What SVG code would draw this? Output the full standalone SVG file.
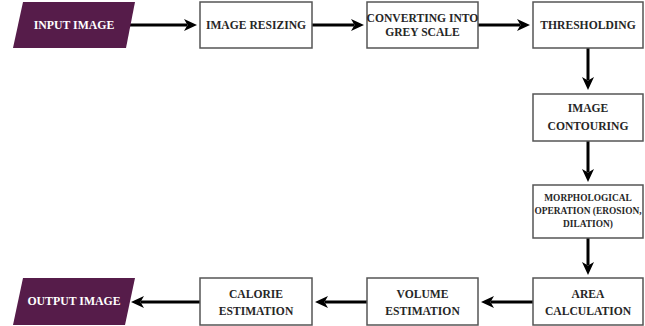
<svg xmlns="http://www.w3.org/2000/svg" width="645" height="326" viewBox="0 0 645 326">
<style>
.box{fill:#ffffff;stroke:#555555;stroke-width:1.5}
.io{fill:#561c4a;stroke:none}
.t{font-family:"Liberation Serif","Times New Roman",serif;font-weight:bold;font-size:11.6px;fill:#262626;text-anchor:middle}
.ti{font-family:"Liberation Serif","Times New Roman",serif;font-weight:bold;font-size:11.8px;fill:#ffffff;text-anchor:middle}
.ts{font-family:"Liberation Serif","Times New Roman",serif;font-weight:bold;font-size:9.4px;fill:#262626;text-anchor:middle}
.c{fill:none;stroke:#000000;stroke-width:3}
</style>
<defs>
<marker id="ah" markerUnits="userSpaceOnUse" markerWidth="14" markerHeight="14" viewBox="0 0 14 14" refX="3" refY="7" orient="auto">
<path d="M0,1 L13,7 L0,13 L3.5,7 Z" fill="#000000"/>
</marker>
</defs>
<g id="connectors">
<line class="c" x1="130" y1="25" x2="187" y2="25" marker-end="url(#ah)"/>
<line class="c" x1="312" y1="25" x2="354" y2="25" marker-end="url(#ah)"/>
<line class="c" x1="478" y1="25" x2="520" y2="25" marker-end="url(#ah)"/>
<line class="c" x1="588" y1="48" x2="588" y2="80" marker-end="url(#ah)"/>
<line class="c" x1="588" y1="141" x2="588" y2="172" marker-end="url(#ah)"/>
<line class="c" x1="588" y1="238" x2="588" y2="265" marker-end="url(#ah)"/>
<line class="c" x1="533" y1="302" x2="491" y2="302" marker-end="url(#ah)"/>
<line class="c" x1="367" y1="302" x2="325" y2="302" marker-end="url(#ah)"/>
<line class="c" x1="200" y1="302" x2="141" y2="302" marker-end="url(#ah)"/>
</g>
<g id="input-image">
<polygon class="io" points="23,2 135,2 126,48 13,48"/>
<text class="ti" x="74" y="29">INPUT IMAGE</text>
</g>
<g id="image-resizing">
<rect class="box" x="200" y="2" width="112" height="46"/>
<text class="t" x="256" y="29">IMAGE RESIZING</text>
</g>
<g id="grey-scale">
<rect class="box" x="367" y="2" width="111" height="46"/>
<text class="t" x="422.5" y="22">CONVERTING INTO</text>
<text class="t" x="422.5" y="36">GREY SCALE</text>
</g>
<g id="thresholding">
<rect class="box" x="533" y="2" width="110" height="46"/>
<text class="t" x="588" y="29">THRESHOLDING</text>
</g>
<g id="image-contouring">
<rect class="box" x="533" y="94" width="110" height="47"/>
<text class="t" x="588" y="112">IMAGE</text>
<text class="t" x="588" y="130">CONTOURING</text>
</g>
<g id="morphological">
<rect class="box" x="533" y="185" width="110" height="53"/>
<text class="ts" x="588" y="201">MORPHOLOGICAL</text>
<text class="ts" x="588" y="214">OPERATION (EROSION,</text>
<text class="ts" x="588" y="227">DILATION)</text>
</g>
<g id="area-calculation">
<rect class="box" x="533" y="278" width="110" height="47"/>
<text class="t" x="588" y="298">AREA</text>
<text class="t" x="588" y="315">CALCULATION</text>
</g>
<g id="volume-estimation">
<rect class="box" x="367" y="278" width="111" height="47"/>
<text class="t" x="422.5" y="298">VOLUME</text>
<text class="t" x="422.5" y="315">ESTIMATION</text>
</g>
<g id="calorie-estimation">
<rect class="box" x="200" y="278" width="112" height="47"/>
<text class="t" x="256" y="298">CALORIE</text>
<text class="t" x="256" y="315">ESTIMATION</text>
</g>
<g id="output-image">
<polygon class="io" points="23,278 135,278 125,325 13,325"/>
<text class="ti" x="74" y="305">OUTPUT IMAGE</text>
</g>
</svg>
